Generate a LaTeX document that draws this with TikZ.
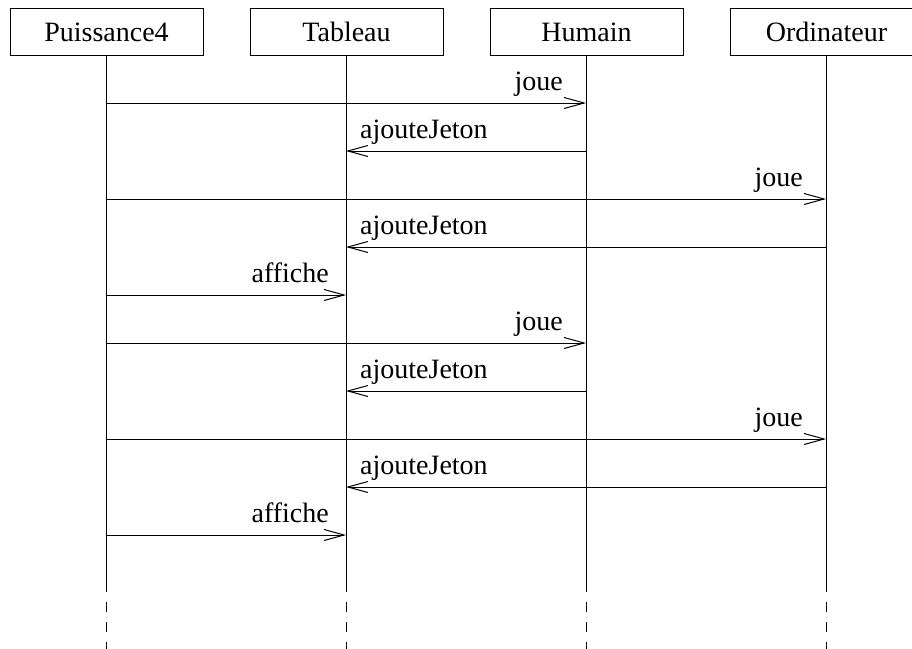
\documentclass[tikz,border=0pt]{standalone}
\usepackage{fontspec}
\setmainfont{Liberation Serif}
\usetikzlibrary{arrows.meta}
\begin{document}
\begin{tikzpicture}[x=1pt,y=-1pt,
  every node/.style={font=\fontsize{28}{34}\selectfont},
  box/.style={draw,line width=1pt,minimum width=193pt,minimum height=47pt,inner sep=0pt,text height=20pt,text depth=0pt},
  life/.style={line width=1pt},
  lifedash/.style={line width=1pt,dash pattern=on 10pt off 10pt},
  msg/.style={line width=1pt,-{Straight Barb[length=20pt,width=11pt,line width=1pt]}},
  rlab/.style={anchor=base east,inner sep=0pt},
  llab/.style={anchor=base west,inner sep=0pt}]
\useasboundingbox (0,0) rectangle (912,648);
\clip (0,0) rectangle (912,648);
% participants
\node[box] (p) at (106.5,31.5) {Puissance4};
\node[box] (t) at (346.5,31.5) {Tableau};
\node[box] (h) at (586.5,31.5) {Humain};
\node[box] (o) at (826.5,31.5) {Ordinateur};
% lifeline ends
\foreach \n/\x in {p/106,t/346,h/586,o/826}{
  \coordinate (\n s) at (\x,582);
  \coordinate (\n e) at (\x,652);
  \draw[life] (\n.south -| \n s) -- (\n s);
  \draw[lifedash] (\n s) -- (\n e);
}
% message anchor points
\foreach \k/\y in {1/103,2/151,3/199,4/247,5/295,6/343,7/391,8/439,9/487,10/535}{
  \coordinate (p\k) at (106,\y);
  \coordinate (t\k) at (346,\y);
  \coordinate (h\k) at (586,\y);
  \coordinate (o\k) at (826,\y);
}
% messages
\draw[msg] (p1) -- (h1);
\node[rlab] at ([xshift=-23pt,yshift=13pt]h1) {joue};
\draw[msg] (h2) -- (t2);
\node[llab] at ([xshift=14pt,yshift=13pt]t2) {ajouteJeton};
\draw[msg] (p3) -- (o3);
\node[rlab] at ([xshift=-23pt,yshift=13pt]o3) {joue};
\draw[msg] (o4) -- (t4);
\node[llab] at ([xshift=14pt,yshift=13pt]t4) {ajouteJeton};
\draw[msg] (p5) -- (t5);
\node[rlab] at ([xshift=-17pt,yshift=13pt]t5) {affiche};
\draw[msg] (p6) -- (h6);
\node[rlab] at ([xshift=-23pt,yshift=13pt]h6) {joue};
\draw[msg] (h7) -- (t7);
\node[llab] at ([xshift=14pt,yshift=13pt]t7) {ajouteJeton};
\draw[msg] (p8) -- (o8);
\node[rlab] at ([xshift=-23pt,yshift=13pt]o8) {joue};
\draw[msg] (o9) -- (t9);
\node[llab] at ([xshift=14pt,yshift=13pt]t9) {ajouteJeton};
\draw[msg] (p10) -- (t10);
\node[rlab] at ([xshift=-17pt,yshift=13pt]t10) {affiche};
\end{tikzpicture}
\end{document}
